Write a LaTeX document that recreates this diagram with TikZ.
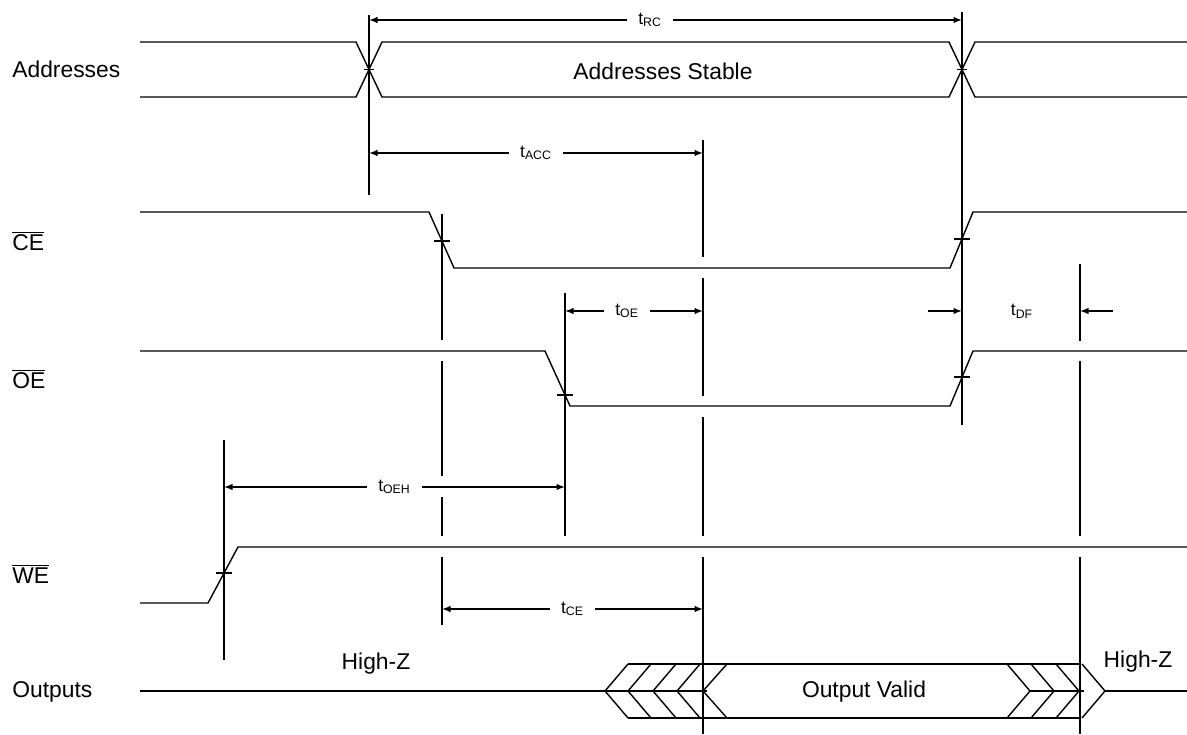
\documentclass[tikz,border=0pt]{standalone}
\usepackage{fontspec}
\setmainfont{Liberation Sans}
\usepackage{tikz}
\usetikzlibrary{arrows.meta}

\newcommand{\ovl}[1]{$\overline{\mbox{#1}}$}
\newcommand{\tsub}[1]{t\textsubscript{#1}}

\begin{document}
\begin{tikzpicture}[x=0.02cm,y=-0.02cm,
    sig/.style={line width=0.8pt,line join=miter},
    refline/.style={line width=0.8pt},
    tick/.style={line width=0.8pt},
    dim/.style={{Latex[length=1.7mm,width=1.3mm]}-{Latex[length=1.7mm,width=1.3mm]},line width=0.8pt},
    dimhalf/.style={-{Latex[length=1.7mm,width=1.3mm]},line width=0.8pt},
    dimlbl/.style={fill=white,inner xsep=0.22cm,inner ysep=1pt,font=\fontsize{10}{12}\selectfont},
    signame/.style={anchor=west,inner sep=0pt,font=\fontsize{13}{15}\selectfont},
    txt/.style={inner sep=0pt,font=\fontsize{13}{15}\selectfont}]
      \useasboundingbox (0,0) rectangle (1187,734);

      % signal names
      \node[signame] (lblAddr) at (12,69) {Addresses};
      \node[signame] (lblCE) at (12,241) {\ovl{CE}};
      \node[signame] (lblOE) at (12,379) {\ovl{OE}};
      \node[signame] (lblWE) at (12,574) {\ovl{WE}};
      \node[signame] (lblOut) at (12,692) {Outputs};

      % Addresses
      \draw[sig] (140,42) -- (356,42) -- (382,97) -- (949,97) -- (975,42) -- (1187,42);
      \draw[sig] (140,97) -- (356,97) -- (382,42) -- (949,42) -- (975,97) -- (1187,97);
      \node[txt] (stable) at (663,71) {Addresses Stable};
      \draw[tick] (364,69.5) -- (374,69.5);
      \draw[tick] (957,69.5) -- (967,69.5);

      % CE
      \draw[sig] (140,212) -- (429,212) -- (454,268) -- (950,268) -- (973,212) -- (1187,212);
      \draw[tick] (434,241) -- (450,241);
      \draw[tick] (954,239) -- (970,239);

      % OE
      \draw[sig] (140,351) -- (545,351) -- (570,406) -- (950,406) -- (973,351) -- (1187,351);
      \draw[tick] (557,395) -- (573,395);
      \draw[tick] (954,377) -- (970,377);

      % WE
      \draw[sig] (140,603) -- (208,603) -- (238,547) -- (1187,547);
      \draw[tick] (216,573) -- (232,573);

      % Outputs
      \draw[sig] (140,691) -- (703,691);
      \draw[sig] (628,664) -- (1080,664);
      \draw[sig] (628,718) -- (1080,718);
      \draw[sig] (628,664) -- (605,691) -- (628,718);
      \draw[sig] (651,664) -- (628,691) -- (651,718);
      \draw[sig] (676,664) -- (653,691) -- (676,718);
      \draw[sig] (700,664) -- (677,691) -- (700,718);
      \draw[sig] (727,664) -- (703,691) -- (727,718);
      \draw[sig] (1007,664) -- (1030,691) -- (1007,718);
      \draw[sig] (1031,664) -- (1054,691) -- (1031,718);
      \draw[sig] (1056,664) -- (1079,691) -- (1056,718);
      \draw[sig] (1082,664) -- (1105,691) -- (1082,718);
      \draw[sig] (1030,691) -- (1080,691);
      \draw[sig] (1105,691) -- (1187,691);
      \draw[tick] (699,691) -- (707,691);
      \draw[tick] (1076,691) -- (1084,691);
      \node[txt] (hiz1) at (376,664) {High-Z};
      \node[txt] (valid) at (864,692) {Output Valid};
      \node[txt] (hiz2) at (1138,662) {High-Z};

      % timing reference lines
      \draw[refline] (369,15) -- (369,195);
      \draw[refline] (962,12) -- (962,425);
      \draw[refline] (703,140) -- (703,257) (703,278) -- (703,396)
        (703,417) -- (703,536) (703,557) -- (703,734);
      \draw[refline] (442,214) -- (442,340) (442,361) -- (442,476)
        (442,497) -- (442,536) (442,557) -- (442,625);
      \draw[refline] (565,293) -- (565,536);
      \draw[refline] (224,440) -- (224,660);
      \draw[refline] (1080,264) -- (1080,341) (1080,361) -- (1080,536)
        (1080,557) -- (1080,734);

      % timing parameters
      \draw[dim] (369,20) -- (962,20) node[dimlbl,pos=0.474] (tRC) {\tsub{RC}};
      \draw[dim] (369,153) -- (703,153) node[dimlbl,midway] (tACC) {\tsub{ACC}};
      \draw[dim] (565,311) -- (703,311) node[dimlbl,pos=0.45] (tOE) {\tsub{OE}};
      \draw[dimhalf] (928,311) -- (962,311);
      \draw[dimhalf] (1113,311) -- (1080,311);
      \node[dimlbl,fill=none] (tDF) at (1022,311) {\tsub{DF}};
      \draw[dim] (224,487) -- (565,487) node[dimlbl,midway] (tOEH) {\tsub{OEH}};
      \draw[dim] (442,609) -- (703,609) node[dimlbl,midway] (tCE) {\tsub{CE}};

    \end{tikzpicture}
\end{document}
